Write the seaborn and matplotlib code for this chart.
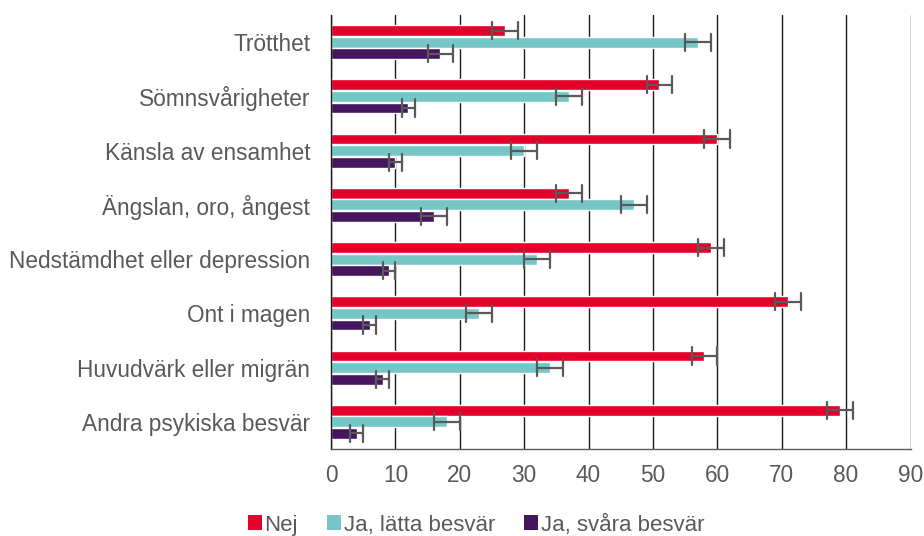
import matplotlib
matplotlib.use("Agg")
import matplotlib.pyplot as plt
from matplotlib.patches import Patch
import seaborn as sns
import pandas as pd

categories = ["Trötthet", "Sömnsvårigheter", "Känsla av ensamhet", "Ängslan, oro, ångest",
              "Nedstämdhet eller depression", "Ont i magen", "Huvudvärk eller migrän",
              "Andra psykiska besvär"]
groups = ["Nej", "Ja, lätta besvär", "Ja, svåra besvär"]
nej = [27, 51, 60, 37, 59, 71, 58, 79]
latta = [57, 37, 30, 47, 32, 23, 34, 18]
svara = [17, 12, 10, 16, 9, 6, 8, 4]
err_nej = [2, 2, 2, 2, 2, 2, 2, 2]
err_latta = [2, 2, 2, 2, 2, 2, 2, 2]
err_svara = [2, 1, 1, 2, 1, 1, 1, 1]
xticks = [0, 10, 20, 30, 40, 50, 60, 70, 80, 90]

colors = ["#E4002B", "#76C6C8", "#45165E"]

rows = []
for g, vals, errs in zip(groups, [nej, latta, svara], [err_nej, err_latta, err_svara]):
    for c, v, e in zip(categories, vals, errs):
        rows.append({"cat": c, "grp": g, "val": v - e})
        rows.append({"cat": c, "grp": g, "val": v + e})
df = pd.DataFrame(rows)

sns.set_style("white")
plt.rcParams["font.family"] = ["Liberation Sans", "DejaVu Sans"]

fig = plt.figure(figsize=(9.24, 5.36), dpi=100)
ax = fig.add_axes([331 / 924, 1 - 449 / 536, (910.5 - 331) / 924, (449 - 15) / 536])

sns.barplot(data=df, y="cat", x="val", hue="grp", order=categories, hue_order=groups,
            palette=colors, orient="h", estimator="mean",
            errorbar=lambda x: (x.min(), x.max()),
            capsize=0.95, err_kws={"color": "#595959", "linewidth": 1.6},
            width=0.64, gap=0.06, saturation=1, legend=False, ax=ax)

ax.set_xlim(0, 90)
ax.set_ylim(7.5, -0.5)
ax.set_xticks(xticks)
ax.set_xlabel("")
ax.set_ylabel("")
ax.grid(axis="x", color="#1a1a1a", linewidth=1.0)
ax.grid(axis="y", visible=False)
ax.set_axisbelow(True)
for s in ["top", "right"]:
    ax.spines[s].set_visible(False)
ax.spines["left"].set_color("#1a1a1a")
ax.spines["left"].set_linewidth(1.0)
ax.spines["bottom"].set_color("#595959")
ax.spines["bottom"].set_linewidth(1.0)
ax.tick_params(axis="y", length=0, pad=15, labelsize=16.3, labelcolor="#595959")
ax.tick_params(axis="x", length=0, pad=11, labelsize=16.3, labelcolor="#595959")

handles = [Patch(facecolor=c, edgecolor="none") for c in colors]
fig.legend(handles, groups, loc="center", bbox_to_anchor=(476 / 924, 1 - 525 / 536),
           ncol=3, frameon=False, fontsize=16, labelcolor="#595959",
           handlelength=0.65, handleheight=0.65, handletextpad=0.1, columnspacing=1.3,
           borderpad=0.2)

fig.savefig("out.png", dpi=100)
